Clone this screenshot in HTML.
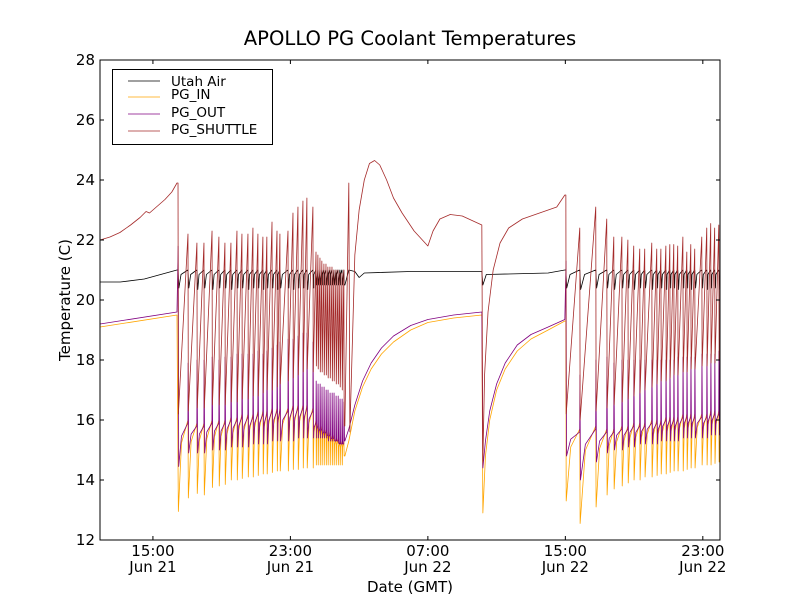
<!DOCTYPE html>
<html><head><meta charset="utf-8"><style>
html,body{margin:0;padding:0;background:#fff}
svg text{font-family:"DejaVu Sans","Liberation Sans",sans-serif}
</style></head><body>
<svg id="chart" width="800" height="600" xmlns="http://www.w3.org/2000/svg">
<rect width="800" height="600" fill="#fff"/>
<text x="410" y="45" font-size="19.6" text-anchor="middle">APOLLO PG Coolant Temperatures</text>
<defs><clipPath id="clip"><rect x="100" y="60" width="620" height="480"/></clipPath></defs>
<g id="series" clip-path="url(#clip)"></g>
<rect x="100" y="60" width="620" height="480" fill="none" stroke="#000" stroke-width="1"/>
<g id="axes"></g>
<text x="410" y="592" font-size="15" text-anchor="middle">Date (GMT)</text>
<text transform="translate(70,300) rotate(-90)" font-size="15" text-anchor="middle">Temperature (C)</text>
<g>
<rect x="112.5" y="69.5" width="160" height="75" fill="#fff" stroke="#000" stroke-width="1"/>
<line x1="128" y1="81" x2="160" y2="81" stroke="#000" stroke-width="0.8"/>
<text x="171" y="86" font-size="13.5">Utah Air</text>
<line x1="128" y1="97" x2="160" y2="97" stroke="#FFA500" stroke-width="0.8"/>
<text x="171" y="99" font-size="13.5">PG_IN</text>
<line x1="128" y1="114" x2="160" y2="114" stroke="#800080" stroke-width="0.8"/>
<text x="171" y="117" font-size="13.5">PG_OUT</text>
<line x1="128" y1="131" x2="160" y2="131" stroke="#A52A2A" stroke-width="0.8"/>
<text x="171" y="134" font-size="13.5">PG_SHUTTLE</text>
</g>
</svg>
<script>
// hours since Jun 21 00:00 GMT
const yTicks = [12,14,16,18,20,22,24,26,28];
const xTickHours = [15,23,31,39,47];
const xTickTimes = ["15:00","23:00","07:00","15:00","23:00"];
const xTickDates = ["Jun 21","Jun 21","Jun 22","Jun 22","Jun 22"];

const preT = [11.92,12.5,13.08,13.7,14.25,14.6,14.8,15.0,15.4,15.7,16.1,16.4];
const preShuttle = [22.0,22.1,22.25,22.5,22.75,22.95,22.9,23.0,23.2,23.35,23.6,23.9];
const preInT = [11.92,16.4];
const preIn = [19.1,19.5];
const preOut = [19.2,19.6];
const preUtahT = [11.92,13.1,14.5,16.4];
const preUtah = [20.6,20.6,20.7,21.0];

const T1 = [16.46,17.04,17.56,17.97,18.44,18.84,19.19,19.54,19.89,20.18,20.53,20.82,21.11,21.40,21.63,21.93,22.22,22.39,22.86,23.15,23.44,23.73,23.96,24.31,24.49,24.60,24.72,24.83,24.95,25.07,25.18,25.30,25.42,25.53,25.65,25.77,25.88,26.00,26.11];
const sh1Peak = [23.9,22.2,21.9,21.9,22.3,22.1,21.9,21.9,22.3,22.2,22.2,22.4,22.2,22.1,22.1,22.6,22.3,22.2,22.3,22.9,23.1,23.3,23.4,23.1,21.6,21.5,21.4,21.3,21.2,21.2,21.1,21.1,21.1,21.0,21.0,21.0,20.9,20.9,21.0];
const sh1Trough = [16.2,16.3,16.4,16.4,16.5,16.5,16.5,16.6,16.6,16.7,16.7,16.8,16.8,16.9,17.0,17.0,17.1,17.2,17.3,17.4,17.5,17.6,17.7,17.6,17.8,17.7,17.6,17.6,17.5,17.5,17.4,17.4,17.3,17.3,17.2,17.2,17.1,17.0,15.8];
const in1Max = [19.5,16.0,15.9,15.9,16.0,16.0,16.0,16.1,16.1,16.2,16.2,16.2,16.3,16.3,16.3,16.4,16.4,16.4,16.4,16.5,16.5,16.5,16.5,16.4,16.0,15.9,15.8,15.8,15.7,15.7,15.6,15.6,15.5,15.5,15.4,15.4,15.3,15.3,15.3];
const in1Min = [12.95,13.4,13.55,13.5,13.75,13.8,13.85,14.0,14.0,14.05,14.1,14.1,14.15,14.2,14.2,14.25,14.3,14.3,14.3,14.35,14.35,14.4,14.4,14.4,14.5,14.5,14.5,14.5,14.5,14.5,14.5,14.5,14.5,14.5,14.5,14.5,14.5,14.5,14.8];
const out1Peak = [21.8,17.9,18.0,18.0,18.1,18.0,18.1,18.1,18.2,18.2,18.2,18.2,18.3,18.2,18.3,18.4,18.5,18.6,18.7,18.7,18.8,18.9,18.9,18.6,17.3,17.2,17.2,17.1,17.1,17.0,17.0,16.9,16.9,16.9,16.8,16.8,16.7,16.7,16.6];
const out1Min = [14.45,14.9,14.9,14.9,15.0,15.0,15.0,15.1,15.1,15.1,15.1,15.2,15.2,15.2,15.2,15.3,15.3,15.3,15.3,15.3,15.4,15.4,15.4,15.4,15.4,15.4,15.4,15.4,15.4,15.4,15.3,15.3,15.3,15.3,15.3,15.3,15.2,15.2,15.3];
const u1Min = [20.4,20.4,20.35,20.4,20.35,20.4,20.4,20.35,20.4,20.4,20.35,20.4,20.4,20.35,20.4,20.4,20.35,20.4,20.4,20.35,20.4,20.4,20.35,20.4,20.5,20.5,20.5,20.5,20.5,20.5,20.5,20.5,20.5,20.5,20.5,20.5,20.5,20.5,20.5];

const midT = [26.17,26.40,26.46,26.75,27.0,27.3,27.6,27.9,28.2,28.6,29.0,29.5,30.2,31.0,31.3,31.7,32.3,33.0,34.14,34.20,34.3,34.5,34.8,35.2,35.7,36.5,37.5,38.5,38.97];
const midShuttle = [15.8,23.9,15.6,21.5,23.0,24.0,24.55,24.65,24.5,24.0,23.4,22.9,22.3,21.8,22.3,22.7,22.85,22.8,22.5,14.6,17.5,19.6,21.0,21.9,22.4,22.7,22.9,23.1,23.5];
const midInT = [26.17,26.4,26.75,27.2,27.7,28.3,29.0,30.0,31.0,32.5,34.14,34.20,34.35,34.6,35.0,35.5,36.2,37.0,38.0,38.97];
const midIn = [14.8,15.3,16.3,17.1,17.7,18.2,18.6,19.0,19.25,19.4,19.5,12.9,14.8,16.0,17.0,17.7,18.3,18.7,19.0,19.3];
const midOut = [15.3,15.7,16.5,17.3,17.9,18.4,18.8,19.15,19.35,19.5,19.6,14.4,15.3,16.3,17.2,17.9,18.5,18.85,19.1,19.35];
const midUtahT = [26.17,26.4,26.75,27.0,27.3,30.0,34.14,34.2,34.4,38.0,38.97];
const midUtah = [20.5,21.0,20.95,20.75,20.9,20.95,20.95,20.5,20.85,20.9,21.0];

const T3 = [39.03,39.84,40.77,41.41,41.82,42.29,42.64,42.98,43.33,43.62,44.03,44.32,44.56,44.85,45.08,45.31,45.54,45.84,46.07,46.30,46.53,46.94,47.23,47.46,47.69,47.93];
const sh3Peak = [23.5,22.4,23.1,22.7,22.1,22.1,22.0,21.8,21.7,21.7,21.9,21.7,21.7,21.8,21.85,21.85,21.8,22.1,21.6,21.85,21.7,22.1,22.4,22.55,22.4,22.5];
const sh3Trough = [16.2,16.0,16.3,16.4,16.5,16.6,16.7,16.8,16.9,17.0,17.1,17.2,17.3,17.3,17.4,17.5,17.5,17.6,17.6,17.7,17.7,17.8,17.8,17.9,17.9,18.0];
const in3Max = [19.3,15.7,15.8,15.7,15.7,15.8,15.8,15.9,15.9,15.9,16.0,16.0,16.0,16.1,16.1,16.1,16.1,16.2,16.2,16.2,16.2,16.2,16.2,16.3,16.3,16.3];
const in3Min = [13.3,12.55,13.1,13.5,13.7,13.8,13.9,14.0,14.0,14.1,14.1,14.15,14.2,14.2,14.25,14.3,14.3,14.3,14.35,14.4,14.4,14.5,14.5,14.5,14.55,14.6];
const out3Peak = [21.3,17.5,18.0,18.1,17.9,18.0,18.0,18.0,18.0,18.0,18.0,18.0,18.0,18.0,18.0,18.0,18.1,18.1,18.1,18.1,18.1,18.2,18.2,18.2,18.2,18.3];
const out3Min = [14.8,14.0,14.6,14.9,15.0,15.0,15.1,15.1,15.2,15.2,15.2,15.2,15.3,15.3,15.3,15.3,15.3,15.4,15.4,15.4,15.4,15.4,15.4,15.5,15.5,15.5];
const u3Min = [20.4,20.35,20.4,20.4,20.35,20.4,20.4,20.35,20.4,20.4,20.35,20.4,20.4,20.35,20.4,20.4,20.35,20.4,20.4,20.35,20.4,20.4,20.35,20.4,20.4,20.35];

const X0=100,X1=720,Y0=540,Y1=60, HMIN=11.92, HMAX=48.0, VMIN=12, VMAX=28;
function xs(h){return X0+(h-HMIN)/(HMAX-HMIN)*(X1-X0);}
function ys(v){return Y0-(v-VMIN)/(VMAX-VMIN)*(Y0-Y1);}
function pairs(T,V){return T.map((t,i)=>[t,V[i]]);}

function cycShuttle(T,pk,tr){const p=[];T.forEach((t,i)=>{p.push([t,pk[i]]);p.push([t+0.02,tr[i]]);});return p;}
function cycIn(T,mx,mn,endH){const p=[];T.forEach((t,i)=>{const nt=i<T.length-1?T[i+1]:endH;const nv=i<T.length-1?mx[i+1]:mx[i];p.push([t,mx[i]]);p.push([t+0.02,mn[i]]);const dt=nt-t;if(dt>0.1){p.push([t+0.35*dt,mn[i]+0.75*(nv-mn[i])]);}});return p;}
function cycOut(T,mx,pk,mn,endH){const p=[];T.forEach((t,i)=>{const nt=i<T.length-1?T[i+1]:endH;const nv=(i<T.length-1?mx[i+1]:mx[i])-0.1;p.push([t+0.01,pk[i]]);p.push([t+0.04,mn[i]]);const dt=nt-t;if(dt>0.1){p.push([t+0.35*dt,mn[i]+0.7*(nv-mn[i])]);p.push([nt-0.005,nv]);}});return p;}
function cycUtah(T,mn,endH){const p=[];T.forEach((t,i)=>{const nt=i<T.length-1?T[i+1]:endH;const dt=nt-t;p.push([t,21.0]);p.push([t+Math.min(0.05,dt*0.3),mn[i]]);if(dt>0.12){p.push([t+0.3*dt,20.85]);p.push([nt-0.01,21.0]);}});return p;}

const gS=document.getElementById('series');
const gA=document.getElementById('axes');
const NS='http://www.w3.org/2000/svg';
function drawLine(pts,color,name){
  const el=document.createElementNS(NS,'polyline');
  el.setAttribute('points',pts.map(p=>xs(p[0]).toFixed(2)+','+ys(p[1]).toFixed(2)).join(' '));
  el.setAttribute('fill','none');el.setAttribute('stroke',color);el.setAttribute('stroke-width','0.8');
  el.setAttribute('stroke-linejoin','round');
  
  
  gS.appendChild(el);
}
const utahPts=[].concat(pairs(preUtahT,preUtah),cycUtah(T1,u1Min,26.17),pairs(midUtahT,midUtah),cycUtah(T3,u3Min,48.2));
const inPts=[].concat(pairs(preInT,preIn),cycIn(T1,in1Max,in1Min,26.17).slice(1),pairs(midInT,midIn),cycIn(T3,in3Max,in3Min,48.2));
const outPts=[].concat(pairs(preInT,preOut),cycOut(T1,in1Max,out1Peak,out1Min,26.17),pairs(midInT,midOut),cycOut(T3,in3Max,out3Peak,out3Min,48.2));
const shPts=[].concat(pairs(preT,preShuttle),cycShuttle(T1,sh1Peak,sh1Trough),pairs(midT,midShuttle),cycShuttle(T3,sh3Peak,sh3Trough).concat([[48.2,18.0]]));
drawLine(utahPts,'#000000','utah-air-line');
drawLine(inPts,'#FFA500','pg-in-line');
drawLine(outPts,'#800080','pg-out-line');
drawLine(shPts,'#A52A2A','pg-shuttle-line');

function mk(tag,attrs){const e=document.createElementNS(NS,tag);for(const k in attrs)e.setAttribute(k,attrs[k]);gA.appendChild(e);return e;}
yTicks.forEach(v=>{
  const y=ys(v);
  const a=mk('line',{x1:X0,y1:y,x2:X0+4,y2:y,stroke:'#000'});
  
  
  const b=mk('line',{x1:X1-4,y1:y,x2:X1,y2:y,stroke:'#000'});
  
  
  const t=mk('text',{x:95,y:y+5,'font-size':15,'text-anchor':'end'});
  t.textContent=v;
  
  
});
xTickHours.forEach((h,i)=>{
  const x=xs(h);
  const a=mk('line',{x1:x,y1:Y0,x2:x,y2:Y0-4,stroke:'#000'});
  
  
  const b=mk('line',{x1:x,y1:Y1,x2:x,y2:Y1+4,stroke:'#000'});
  
  
  const t1=mk('text',{x:x,y:556,'font-size':15,'text-anchor':'middle'});
  t1.textContent=xTickTimes[i];
  
  
  const t2=mk('text',{x:x,y:572,'font-size':15,'text-anchor':'middle'});
  t2.textContent=xTickDates[i];
  
  
});
</script>
</body></html>
